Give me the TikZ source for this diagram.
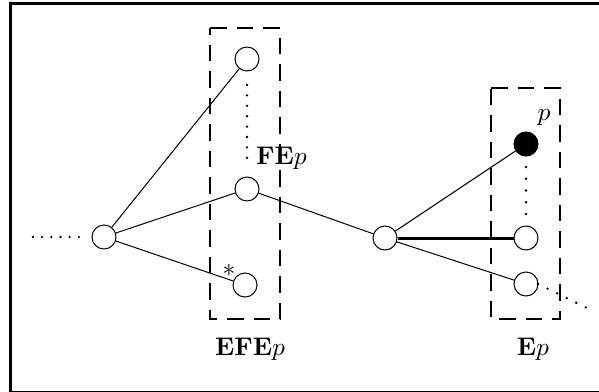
\documentclass[tikz,border=0pt]{standalone}
\usepackage{graphicx}
\begin{document}
\begin{tikzpicture}[x=1pt,y=-1pt,
  vert/.style={circle,draw,line width=1pt,minimum size=24pt,inner sep=0pt,fill=white},
  fullvert/.style={circle,draw,line width=1pt,minimum size=24pt,inner sep=0pt,fill=black},
  edge/.style={line width=1pt},
  heavy/.style={line width=3pt},
  dots/.style={line width=2.6pt,line cap=round,dash pattern=on 0pt off #1},
  dbox/.style={line width=2.8pt,dash pattern=on 16.5pt off 10pt},
  lbl/.style={inner sep=0pt}]
\useasboundingbox (0,0) rectangle (599,391);
\draw[line width=3.5pt] (10.5,3.5) rectangle (603,392.5);
% dashed boxes
\draw[dbox] (210,28) -- (280,28) -- (280,319) -- (210,319) -- cycle;
\draw[dbox] (491,88) -- (560,88) -- (560,319) -- (491,319) -- cycle;
% nodes
\node[vert] (A) at (104,237) {};
\node[vert] (B) at (247,59) {};
\node[vert] (C) at (247,189) {};
\node[vert] (D) at (245,285) {};
\node[vert] (E) at (385,238) {};
\node[fullvert] (F) at (526,144) {};
\node[vert] (G) at (526,238) {};
\node[vert] (H) at (526,284) {};
% coordinates for dotted ends
\coordinate (l0) at (33,237);
\coordinate (l1) at (88,237);
\coordinate (bc0) at (247,85);
\coordinate (bc1) at (247,168);
\coordinate (fg0) at (526,167);
\coordinate (fg1) at (526,214);
\coordinate (h0) at (538,284);
\coordinate (h1) at (586,307.5);
% edges
\draw[edge] (A) -- (B);
\draw[edge] (A) -- (C);
\draw[edge] (A) -- (D);
\draw[edge] (C) -- (E);
\draw[edge] (E) -- (F);
\draw[heavy] (E) -- (G);
\draw[edge] (E) -- (H);
% dotted
\draw[dots=9.17pt] (l0) -- (l1);
\draw[dots=10.4pt] (bc0) -- (bc1);
\draw[dots=11.75pt] (fg0) -- (fg1);
\draw[dots=10.65pt] (h0) -- (h1);
% labels
\node[lbl,anchor=base west] (fe) at (256,164) {\scalebox{2.55}{\textbf{FE}$p$}};
\node[lbl,anchor=base] (efe) at (250,355) {\scalebox{2.55}{\textbf{EFE}$p$}};
\node[lbl,anchor=base] (ep) at (533,355) {\scalebox{2.55}{\textbf{E}$p$}};
\node[lbl,anchor=base] (pl) at (544,120) {\scalebox{2.55}{$p$}};
\node[lbl] (st) at (229,271) {\scalebox{2.55}{$\ast$}};
\end{tikzpicture}
\end{document}
